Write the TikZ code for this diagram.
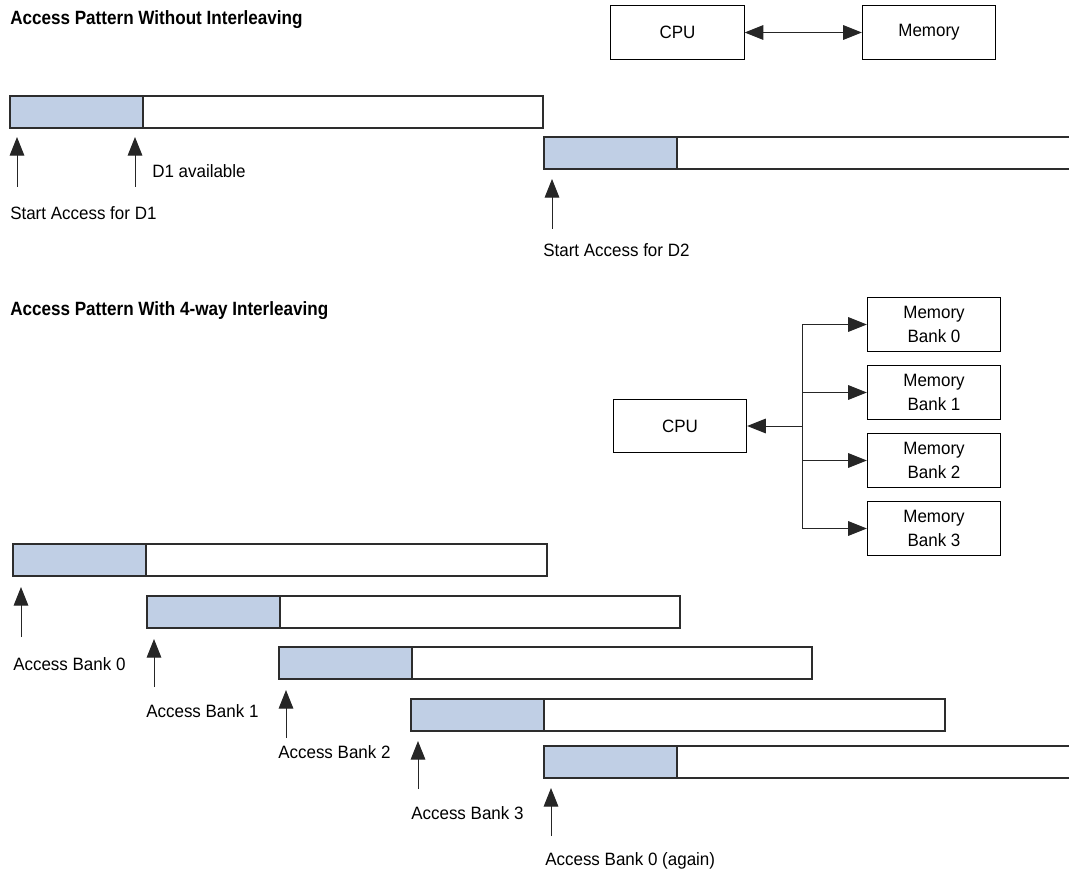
\documentclass[tikz,border=0pt]{standalone}
\usepackage{fontspec}
\setmainfont[FakeStretch=0.95]{Liberation Sans}
\newfontfamily\ttlfont[FakeStretch=0.89]{Liberation Sans}
\usetikzlibrary{arrows.meta}
\definecolor{barblue}{RGB}{192,207,229}
\definecolor{edgegray}{RGB}{45,45,45}
\newcommand\membar[4]{% name, x start, y top, x end
  \fill[barblue] (#2,#3) rectangle (#2+133,#3+32);
  \draw[barline] (#2,#3) rectangle (#4,#3+32);
  \draw[barline] (#2+133,#3) -- (#2+133,#3+32);
  \coordinate (#1) at (#2,#3+32);
}
\begin{document}
\begin{tikzpicture}[x=0.75pt,y=-0.75pt,
  txt/.style={inner sep=0pt, anchor=base west, font=\fontsize{13.4pt}{18pt}\selectfont},
  ttl/.style={inner sep=0pt, anchor=base west, font=\ttlfont\fontsize{14.4pt}{18pt}\selectfont\bfseries},
  box/.style={draw=black, line width=0.8pt, minimum width=100pt, minimum height=40pt,
    align=center, inner sep=0pt, font=\fontsize{13.4pt}{18pt}\selectfont},
  barline/.style={draw=edgegray, line width=0.9pt},
  conn/.style={draw=black!85, line width=0.75pt, -{Triangle[length=14pt,width=11pt]}},
  dconn/.style={draw=black!85, line width=0.75pt, {Triangle[length=14pt,width=11pt]}-{Triangle[length=14pt,width=11pt]}},
  bus/.style={draw=black!85, line width=0.75pt}
]
\useasboundingbox (0,0) rectangle (1069,873);
\clip (0,0) rectangle (1069,873);

% ---------- Without interleaving ----------
\node[ttl] (t1) at (10,25) {Access Pattern Without Interleaving};
\node[box] (cpu1) at (677.5,32.5) {CPU};
\node[box] (mem1) at (929,32.5) {Memory};
\draw[dconn] (cpu1) -- (mem1);

\membar{barone}{10}{96}{543}
\membar{bartwo}{544}{137}{1075}

\coordinate (a1tail) at (17,187);  \coordinate (a1tip) at (17,137);
\coordinate (a2tail) at (135,187); \coordinate (a2tip) at (135,137);
\coordinate (a3tail) at (552,229); \coordinate (a3tip) at (552,179);
\draw[conn] (a1tail) -- (a1tip);
\draw[conn] (a2tail) -- (a2tip);
\draw[conn] (a3tail) -- (a3tip);
\node[txt] (lav) at (152,178) {D1 available};
\node[txt] (ls1) at (10,220) {Start Access for D1};
\node[txt] (ls2) at (543,257) {Start Access for D2};

% ---------- With interleaving ----------
\node[ttl] (t2) at (10,315) {Access Pattern With 4-way Interleaving};
\node[box] (cpu2) at (680,426) {CPU};
\node[box] (bank0) at (934,324.5) {Memory\\Bank 0};
\node[box] (bank1) at (934,392.5) {Memory\\Bank 1};
\node[box] (bank2) at (934,460.5) {Memory\\Bank 2};
\node[box] (bank3) at (934,528.5) {Memory\\Bank 3};
\coordinate (bustop) at (802,324.5);
\coordinate (busmid) at (802,426);
\coordinate (bus1) at (802,392.5);
\coordinate (bus2) at (802,460.5);
\coordinate (busbot) at (802,528.5);
\draw[bus] (bustop) -- (busbot);
\draw[conn] (busmid) -- (cpu2.east);
\draw[conn] (bustop) -- (bank0.west);
\draw[conn] (bus1) -- (bank1.west);
\draw[conn] (bus2) -- (bank2.west);
\draw[conn] (busbot) -- (bank3.west);

\membar{bara}{13}{544}{547}
\membar{barb}{147}{596}{680}
\membar{barc}{279}{647}{812}
\membar{bard}{411}{699}{945}
\membar{bare}{544}{746}{1075}

\coordinate (b0tail) at (21,637);  \coordinate (b0tip) at (21,587);
\coordinate (b1tail) at (154,687); \coordinate (b1tip) at (154,639);
\coordinate (b2tail) at (286,738); \coordinate (b2tip) at (286,690);
\coordinate (b3tail) at (418,789); \coordinate (b3tip) at (418,741);
\coordinate (b4tail) at (551,836); \coordinate (b4tip) at (551,788);
\draw[conn] (b0tail) -- (b0tip);
\draw[conn] (b1tail) -- (b1tip);
\draw[conn] (b2tail) -- (b2tip);
\draw[conn] (b3tail) -- (b3tip);
\draw[conn] (b4tail) -- (b4tip);
\node[txt] (lb0) at (13,670) {Access Bank 0};
\node[txt] (lb1) at (146,717) {Access Bank 1};
\node[txt] (lb2) at (278,758) {Access Bank 2};
\node[txt] (lb3) at (411,819) {Access Bank 3};
\node[txt] (lb4) at (545,865) {Access Bank 0 (again)};
\end{tikzpicture}
\end{document}
